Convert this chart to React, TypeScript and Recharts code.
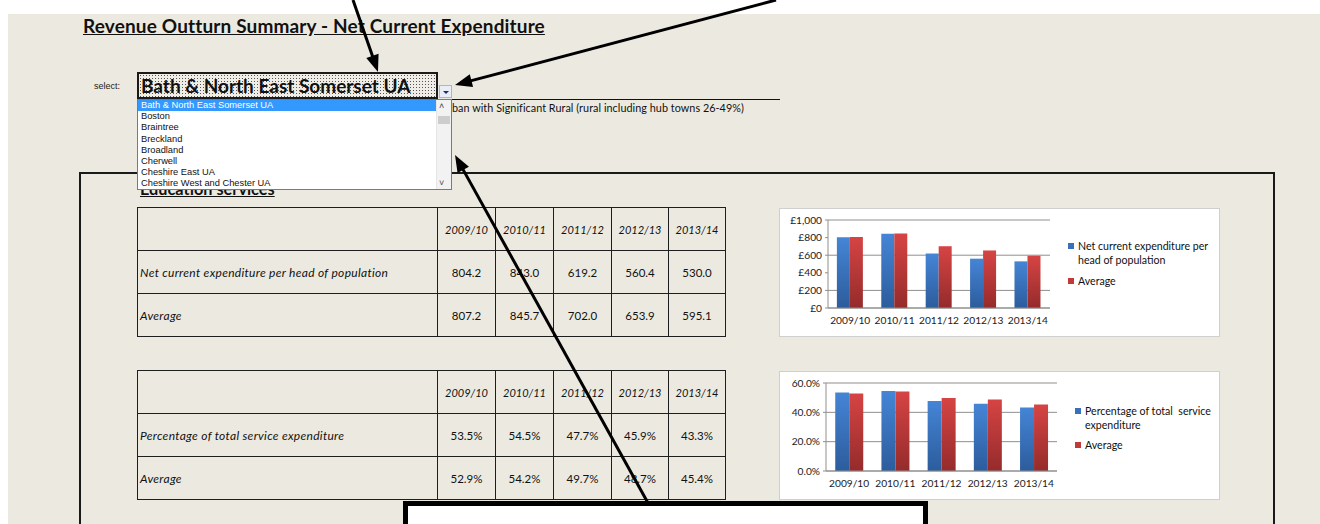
import React from 'react';
import { BarChart, Bar, XAxis, YAxis, CartesianGrid } from 'recharts';

const categories = ['2009/10', '2010/11', '2011/12', '2012/13', '2013/14'];
const netPerHead = [804.2, 843.0, 619.2, 560.4, 530.0];
const netAverage = [807.2, 845.7, 702.0, 653.9, 595.1];
const pctOfTotal = [53.5, 54.5, 47.7, 45.9, 43.3];
const pctAverage = [52.9, 54.2, 49.7, 48.7, 45.4];
const moneyTicks = [0, 200, 400, 600, 800, 1000];
const pctTicks = [0, 20, 40, 60];
const boundaryTicks = [0, 1, 2, 3, 4, 5];
const authorities = [
  'Bath & North East Somerset UA',
  'Boston',
  'Braintree',
  'Breckland',
  'Broadland',
  'Cherwell',
  'Cheshire East UA',
  'Cheshire West and Chester UA',
];
const selectedAuthority = 'Bath & North East Somerset UA';
const classification = 'ban with Significant Rural (rural including hub towns 26-49%)';
const pageTitle = 'Revenue Outturn Summary - Net Current Expenditure';
const sectionTitle = 'Education services';
const moneyRowLabels = ['Net current expenditure per head of population', 'Average'];
const pctRowLabels = ['Percentage of total service expenditure', 'Average'];
const moneyLegend = ['Net current expenditure per', 'head of population', 'Average'];
const pctLegend = ['Percentage of total  service', 'expenditure', 'Average'];

const F = "Lato, 'Open Sans', sans-serif";
const BG = '#ECEAE0';

const abs = (left: number, top: number, extra: any = {}) => ({ position: 'absolute' as const, left, top, ...extra });

function DataTable({ top, labels, rows, fmt }: { top: number; labels: string[]; rows: number[][]; fmt: (v: number) => string }) {
  const cell = { border: '1px solid #1e1e1e', padding: 0, height: 42, fontSize: 11, color: '#111' };
  return (
    <table style={{ ...abs(137, top), borderCollapse: 'collapse', tableLayout: 'fixed', width: 589, fontFamily: F }}>
      <colgroup>
        <col style={{ width: 300 }} />
        <col style={{ width: 58 }} />
        <col style={{ width: 58 }} />
        <col style={{ width: 58 }} />
        <col style={{ width: 57 }} />
        <col style={{ width: 57 }} />
      </colgroup>
      <tbody>
        <tr>
          <td style={cell}></td>
          {categories.map((c) => (
            <td key={c} style={{ ...cell, textAlign: 'center', fontStyle: 'italic' }}>{c}</td>
          ))}
        </tr>
        {rows.map((r, i) => (
          <tr key={i}>
            <td style={{ ...cell, fontStyle: 'italic', paddingLeft: 2, fontSize: 12, letterSpacing: 0.3, whiteSpace: 'nowrap' }}>{labels[i]}</td>
            {r.map((v, j) => (
              <td key={j} style={{ ...cell, textAlign: 'center', fontSize: 11.5 }}>{fmt(v)}</td>
            ))}
          </tr>
        ))}
      </tbody>
    </table>
  );
}

function Gradients() {
  return (
    <defs>
      <linearGradient id="gBlue" x1="0" y1="0" x2="0" y2="1">
        <stop offset="0%" stopColor="#4585D6" />
        <stop offset="100%" stopColor="#2C5C9C" />
      </linearGradient>
      <linearGradient id="gRed" x1="0" y1="0" x2="0" y2="1">
        <stop offset="0%" stopColor="#D64444" />
        <stop offset="100%" stopColor="#952B2B" />
      </linearGradient>
    </defs>
  );
}

function ChartLegend({ left, top, lines, gap }: { left: number; top: number; lines: string[]; gap: number }) {
  const txt = { fontFamily: F, fontSize: 10.6, color: '#111', lineHeight: '14px', whiteSpace: 'pre' as const };
  return (
    <div style={abs(left, top)}>
      <div style={{ position: 'relative', paddingLeft: 10 }}>
        <div style={{ position: 'absolute', left: 0, top: 4, width: 6, height: 6, background: '#3A70BB' }} />
        <div style={txt}>{lines[0]}</div>
        <div style={txt}>{lines[1]}</div>
      </div>
      <div style={{ position: 'relative', paddingLeft: 10, marginTop: gap }}>
        <div style={{ position: 'absolute', left: 0, top: 4, width: 6, height: 6, background: '#C03A3A' }} />
        <div style={txt}>{lines[2]}</div>
      </div>
    </div>
  );
}

function ExcelChart({ left, top, width, height, data, yWidth, rightMargin, domain, ticks, fmt }: any) {
  const tickStyle = { fontFamily: F, fontSize: 10.2, fill: '#1a1a1a' };
  return (
    <div style={{ ...abs(left, top), width, height, background: '#fff', boxShadow: 'inset 0 0 0 1px #cfcfcf' }}>
      <BarChart width={width} height={height} data={data} margin={{ top: 12, right: rightMargin, bottom: 0, left: 0 }} barCategoryGap="20%" barGap={0}>
        <Gradients />
        <CartesianGrid vertical={false} stroke="#8f8f8f" strokeWidth={1} />
        <XAxis xAxisId="b" type="number" domain={[0, 5]} ticks={boundaryTicks} height={0} axisLine={false} tickSize={4} tickLine={{ stroke: '#8f8f8f' }} tickFormatter={() => ''} />
        <XAxis dataKey="cat" height={29} axisLine={{ stroke: '#8f8f8f' }} tickLine={false} tickSize={0} tickMargin={9} tick={tickStyle} interval={0} />
        <YAxis width={yWidth} domain={domain} ticks={ticks} tickFormatter={fmt} axisLine={{ stroke: '#8f8f8f' }} tickLine={{ stroke: '#8f8f8f' }} tickSize={3} tickMargin={3} tick={tickStyle} />
        <Bar dataKey="a" fill="url(#gBlue)" isAnimationActive={false} />
        <Bar dataKey="b" fill="url(#gRed)" isAnimationActive={false} />
      </BarChart>
    </div>
  );
}

function ArrowLine({ x1, y1, x2, y2 }: { x1: number; y1: number; x2: number; y2: number }) {
  const dx = x2 - x1;
  const dy = y2 - y1;
  const len = Math.sqrt(dx * dx + dy * dy);
  const ux = dx / len;
  const uy = dy / len;
  const hl = 17;
  const hw = 6.5;
  const bx = x2 - ux * hl;
  const by = y2 - uy * hl;
  const pts = `${x2},${y2} ${bx - uy * hw},${by + ux * hw} ${bx + uy * hw},${by - ux * hw}`;
  return (
    <g>
      <line x1={x1} y1={y1} x2={bx + ux * 2} y2={by + uy * 2} stroke="#000" strokeWidth={3} />
      <polygon points={pts} fill="#000" />
    </g>
  );
}

export default function App() {
  const moneyData = categories.map((c, i) => ({ cat: c, a: netPerHead[i], b: netAverage[i] }));
  const pctData = categories.map((c, i) => ({ cat: c, a: pctOfTotal[i], b: pctAverage[i] }));
  return (
    <div style={{ position: 'absolute', left: 0, top: 0, width: 1320, height: 524, overflow: 'hidden', background: '#fff', fontFamily: F }}>
      <div style={{ ...abs(8, 14), width: 1312, height: 510, background: BG }} />

      <div style={{ ...abs(83, 14), fontSize: 19, letterSpacing: 0.15, fontWeight: 700, textDecoration: 'underline', color: '#111', whiteSpace: 'nowrap' }}>{pageTitle}</div>

      <div style={{ ...abs(94, 81), fontSize: 9, color: '#222', fontFamily: "'Liberation Sans', sans-serif" }}>select:</div>

      {/* cell underline */}
      <div style={{ ...abs(137, 99), width: 643, height: 1, background: '#111' }} />
      <div style={{ ...abs(452, 101), fontSize: 10.8, letterSpacing: 0.05, color: '#111', whiteSpace: 'nowrap' }}>{classification}</div>

      {/* big section box */}
      <div style={{ ...abs(79, 172), width: 1196, height: 400, border: '2px solid #1a1a1a', boxSizing: 'border-box' }} />
      <div style={{ ...abs(140, 179), fontSize: 16.3, fontWeight: 700, textDecoration: 'underline', color: '#111', whiteSpace: 'nowrap' }}>{sectionTitle}</div>

      <DataTable top={207} labels={moneyRowLabels} rows={[netPerHead, netAverage]} fmt={(v) => v.toFixed(1)} />
      <DataTable top={370} labels={pctRowLabels} rows={[pctOfTotal, pctAverage]} fmt={(v) => v.toFixed(1) + '%'} />

      <ExcelChart left={779} top={208} width={441} height={129} data={moneyData} yWidth={49} rightMargin={170} domain={[0, 1000]} ticks={moneyTicks} fmt={(v: number) => '£' + v.toLocaleString('en-GB')} />
      <ChartLegend left={1068} top={239} lines={moneyLegend} gap={7} />

      <ExcelChart left={779} top={371} width={441} height={129} data={pctData} yWidth={47} rightMargin={163} domain={[0, 60]} ticks={pctTicks} fmt={(v: number) => v.toFixed(1) + '%'} />
      <ChartLegend left={1075} top={404} lines={pctLegend} gap={6} />

      {/* dropdown cell */}
      <div style={{ ...abs(137, 72), width: 301, height: 27, boxSizing: 'border-box', border: '2px solid #1a1a1a', backgroundColor: '#efede6', backgroundImage: 'radial-gradient(circle, #555 0.7px, transparent 0.9px)', backgroundSize: '3px 3px' }}>
        <div style={{ position: 'absolute', left: 2, top: 0, fontSize: 19, fontWeight: 700, color: '#111', whiteSpace: 'nowrap' }}>{selectedAuthority}</div>
      </div>
      <div style={{ ...abs(439, 85), width: 13, height: 13, boxSizing: 'border-box', border: '1px solid #a9b6cc', background: '#e9eef6' }}>
        <div style={{ position: 'absolute', left: 3, top: 5, width: 0, height: 0, borderLeft: '3px solid transparent', borderRight: '3px solid transparent', borderTop: '3px solid #1f2d6b' }} />
      </div>

      {/* dropdown list */}
      <div style={{ ...abs(137, 99), width: 315, height: 91, boxSizing: 'border-box', border: '1px solid #7a7a7a', background: '#fff', overflow: 'hidden', fontFamily: "'Liberation Sans', sans-serif", fontSize: 9.3 }}>
        {authorities.map((a, i) => (
          <div key={a} style={{ height: 11.2, lineHeight: '11.2px', paddingLeft: 3, width: 298, boxSizing: 'border-box', background: i === 0 ? '#3399FF' : 'transparent', color: i === 0 ? '#fff' : '#111', whiteSpace: 'nowrap' }}>{a}</div>
        ))}
        <div style={{ position: 'absolute', right: 0, top: 0, width: 14, height: 89, background: '#f2f2f2', borderLeft: '1px solid #e6e6e6' }}>
          <div style={{ position: 'absolute', left: 2, top: 1, fontSize: 9, color: '#444' }}>˄</div>
          <div style={{ position: 'absolute', left: 1, top: 16, width: 12, height: 8, background: '#cdcdcd' }} />
          <div style={{ position: 'absolute', left: 2, top: 78, fontSize: 9, color: '#444' }}>˅</div>
        </div>
      </div>

      {/* bottom callout box */}
      <div style={{ ...abs(403, 501), width: 525, height: 40, boxSizing: 'border-box', border: '5px solid #000', background: '#fff' }} />

      <svg style={abs(0, 0)} width={1320} height={524}>
        <ArrowLine x1={353} y1={0} x2={378} y2={72} />
        <ArrowLine x1={776} y1={0} x2={455} y2={85} />
        <ArrowLine x1={648} y1={503} x2={455} y2={155} />
      </svg>
    </div>
  );
}
